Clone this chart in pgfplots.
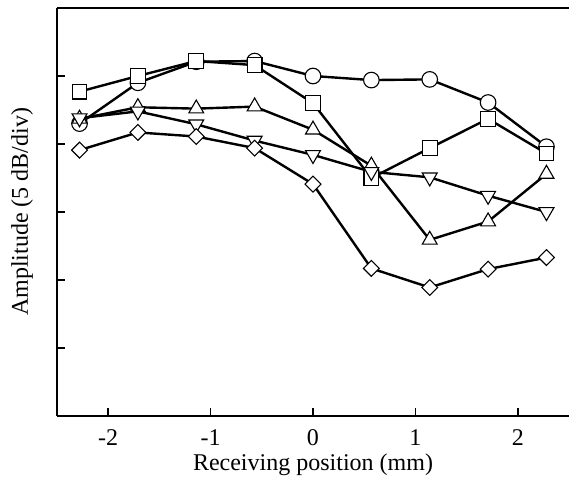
\documentclass[border=0pt]{standalone}
\usepackage{fontspec}
\setmainfont{Liberation Serif}
\usepackage{pgfplots}
\pgfplotsset{compat=1.18}

\begin{document}
\fontsize{12}{14}\selectfont
\begin{tikzpicture}
\useasboundingbox (-28.5pt,-32.5pt) rectangle (256pt,208pt);
\begin{axis}[
    at={(0,0)}, anchor=south west,
    scale only axis,
    width=256pt, height=204pt,
    xmin=-2.5, xmax=2.5,
    ymin=0, ymax=6,
    axis x line*=bottom,
    axis y line*=left,
    axis line style={line width=0.75pt, -},
    tick align=inside,
    major tick length=4pt,
    tick style={line width=0.75pt, black},
    xtick={-2,-1,0,1,2},
    xticklabels={-2,-1,0,1,2},
    ytick={1,2,3,4,5},
    yticklabels={},
    xticklabel style={yshift=-2.5pt},
    xlabel={Receiving position (mm)},
    ylabel={Amplitude (5 dB/div)},
    xlabel style={at={(axis description cs:0.5,-0.12)}, anchor=center},
    ylabel style={at={(axis description cs:-0.068,0.5)}, anchor=center},
    clip=false,
    every axis plot/.append style={black, line width=1.2pt},
]
\draw[line width=0.75pt] (rel axis cs:0,1) -- (rel axis cs:1,1);

% circles
\addplot[mark=*, mark size=3.9pt, mark options={fill=white, line width=0.55pt}]
  coordinates {(-2.28,4.30) (-1.71,4.90) (-1.14,5.21) (-0.57,5.22) (0,5.00)
               (0.57,4.94) (1.14,4.95) (1.71,4.61) (2.28,3.96)};
% squares
\addplot[mark=square*, mark size=3.7pt, mark options={fill=white, line width=0.55pt}]
  coordinates {(-2.28,4.77) (-1.71,5.00) (-1.14,5.22) (-0.57,5.16) (0,4.60)
               (0.57,3.50) (1.14,3.94) (1.71,4.37) (2.28,3.86)};
% up triangles
\addplot[mark=triangle*, mark size=4.3pt, mark options={fill=white, line width=0.55pt}]
  coordinates {(-2.28,4.37) (-1.71,4.54) (-1.14,4.52) (-0.57,4.55) (0,4.21)
               (0.57,3.68) (1.14,2.59) (1.71,2.86) (2.28,3.56)};
% down triangles
\addplot[mark=triangle*, mark size=4.3pt, mark options={fill=white, line width=0.55pt, rotate=180}]
  coordinates {(-2.28,4.38) (-1.71,4.48) (-1.14,4.29) (-0.57,4.05) (0,3.84)
               (0.57,3.59) (1.14,3.51) (1.71,3.24) (2.28,3.00)};
% diamonds
\addplot[mark=square*, mark size=2.8pt, mark options={fill=white, line width=0.55pt, rotate=45}]
  coordinates {(-2.28,3.91) (-1.71,4.17) (-1.14,4.11) (-0.57,3.94) (0,3.41)
               (0.57,2.17) (1.14,1.89) (1.71,2.16) (2.28,2.33)};
\end{axis}
\end{tikzpicture}
\end{document}
